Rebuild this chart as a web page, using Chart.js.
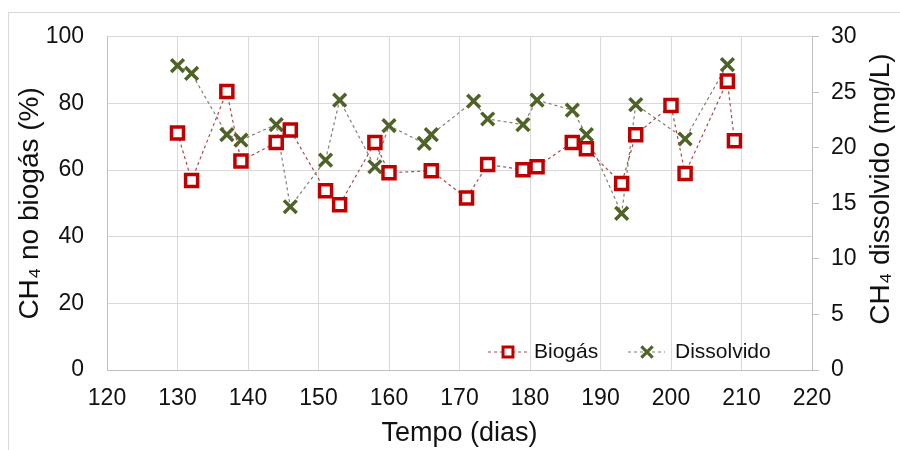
<!DOCTYPE html>
<html><head><meta charset="utf-8">
<script src="https://cdn.jsdelivr.net/npm/chart.js@4/dist/chart.umd.min.js"></script>
<style>
html,body{margin:0;padding:0;background:#fff;}
#wrap{position:relative;width:900px;height:450px;overflow:hidden;}
#frame{position:absolute;left:8px;top:12px;width:900px;height:450px;border:1px solid #d9d9d9;pointer-events:none;}
canvas{display:block;}
</style></head><body>
<div id="wrap"><canvas id="c" width="900" height="450" style="width:900px;height:450px"></canvas><div id="frame"></div></div>
<script>
// Data
const biogasDays = [130,132,137,139,144,146,151,153,158,160,166,171,174,179,181,186,188,193,195,200,202,208,209];
const biogasVals = [71.1,56.9,83.6,62.7,68.3,72.0,53.8,49.6,68.3,59.2,59.8,51.6,61.7,60.1,61.0,68.3,66.4,56.0,70.6,79.4,59.0,86.7,68.8];
const dissDays = [130,132,137,139,144,146,151,153,158,160,165,166,172,174,179,181,186,188,193,195,202,208];
const dissVals = [27.4,26.7,21.2,20.7,22.1,14.7,18.9,24.3,18.3,22.0,20.4,21.2,24.2,22.6,22.1,24.3,23.4,21.2,14.1,23.9,20.8,27.5];
const seriesNames = ['Biogás','Dissolvido'];
const xTitle = 'Tempo (dias)';
const yTitle = 'CH\u2084 no biogás (%)';
const y2Title = 'CH\u2084 dissolvido (mg/L)';

const FONT = "'Liberation Sans', Arial, sans-serif";
const RED = '#C00000';
const GREEN = '#4F6228';
const TXT = '#111111';

function toXY(xs, ys){ return xs.map((x,i)=>({x:x, y:ys[i]})); }

function drawMarker(ctx, style, x, y, r, color, lw){
  ctx.save();
  ctx.lineWidth = lw; ctx.strokeStyle = color;
  if(style==='rect'){
    const s = Math.SQRT1_2*r;
    ctx.fillStyle='#fff';
    ctx.beginPath(); ctx.rect(x-s,y-s,2*s,2*s); ctx.fill(); ctx.stroke();
  } else {
    const s = Math.SQRT1_2*r;
    ctx.beginPath();
    ctx.moveTo(x-s,y-s); ctx.lineTo(x+s,y+s);
    ctx.moveTo(x-s,y+s); ctx.lineTo(x+s,y-s);
    ctx.stroke();
  }
  ctx.restore();
}

const extras = {
  id:'extras',
  afterDraw(chart){
    const ctx = chart.ctx;
    // right axis title, reading bottom-to-top
    ctx.save();
    ctx.fillStyle = TXT;
    ctx.font = '28px ' + FONT;
    ctx.textAlign='center'; ctx.textBaseline='middle';
    ctx.translate(881, 189);
    ctx.rotate(-Math.PI/2);
    ctx.fillText(y2Title, 0, 0);
    ctx.restore();
    // legend inside plot area
    const items = [
      {name:seriesNames[0], ds:chart.data.datasets[0], x0:488, x1:527, mx:508, tx:534, style:'rect', r:7, col:RED, lw:3},
      {name:seriesNames[1], ds:chart.data.datasets[1], x0:628, x1:665, mx:647, tx:675, style:'crossRot', r:8, col:GREEN, lw:3}
    ];
    const ly = 352;
    items.forEach(it=>{
      ctx.save();
      ctx.strokeStyle = it.ds.borderColor; ctx.lineWidth = 1.2;
      ctx.setLineDash([3,3]);
      ctx.beginPath(); ctx.moveTo(it.x0, ly); ctx.lineTo(it.x1, ly); ctx.stroke();
      ctx.restore();
      drawMarker(ctx, it.style, it.mx, ly, it.r, it.col, it.lw);
      ctx.save();
      ctx.fillStyle = TXT; ctx.font = '21px ' + FONT;
      ctx.textAlign='left'; ctx.textBaseline='middle';
      ctx.fillText(it.name, it.tx, ly);
      ctx.restore();
    });
  }
};

new Chart(document.getElementById('c'), {
  type:'line',
  data:{
    datasets:[
      {label:seriesNames[0], data:toXY(biogasDays,biogasVals), yAxisID:'y',
       borderColor:'#A84A4A', borderWidth:1.2, borderDash:[3,3], fill:false, tension:0,
       pointStyle:'rect', pointRadius:8.5, pointHoverRadius:8.5, pointBorderWidth:3.5,
       pointBorderColor:RED, pointBackgroundColor:'#ffffff'},
      {label:seriesNames[1], data:toXY(dissDays,dissVals), yAxisID:'y2',
       borderColor:'#7E8070', borderWidth:1.2, borderDash:[3,3], fill:false, tension:0,
       pointStyle:'crossRot', pointRadius:9, pointHoverRadius:9, pointBorderWidth:3.5,
       pointBorderColor:GREEN, pointBackgroundColor:GREEN}
    ]
  },
  options:{
    responsive:false, animation:false,
    layout:{padding:{top:31,left:0,right:0,bottom:0}},
    plugins:{legend:{display:false}, tooltip:{enabled:false}},
    scales:{
      x:{type:'linear', position:'bottom', min:120, max:220,
         ticks:{stepSize:10, color:TXT, font:{family:FONT,size:23}, padding:15, maxRotation:0},
         grid:{color:'#d9d9d9', drawTicks:false, lineWidth:1},
         border:{color:'#bfbfbf'},
         title:{display:true, text:xTitle, color:TXT, font:{family:FONT,size:27}, padding:{top:0,bottom:0}},
         afterFit(s){ s.height = 80; }},
      y:{type:'linear', position:'left', min:0, max:100,
         ticks:{stepSize:20, color:TXT, font:{family:FONT,size:23}, padding:23},
         grid:{color:'#d9d9d9', drawTicks:false},
         border:{color:'#bfbfbf'},
         title:{display:true, text:yTitle, color:TXT, font:{family:FONT,size:28}, padding:{top:13,bottom:0}},
         afterFit(s){ s.width = 107; }},
      y2:{type:'linear', position:'right', min:0, max:30,
         ticks:{stepSize:5, color:TXT, font:{family:FONT,size:23}, padding:12},
         grid:{drawOnChartArea:false, color:'#bfbfbf', tickLength:7},
         border:{color:'#bfbfbf'},
         title:{display:false},
         afterFit(s){ s.width = 88; }}
    }
  },
  plugins:[extras]
});
</script>
</body></html>
